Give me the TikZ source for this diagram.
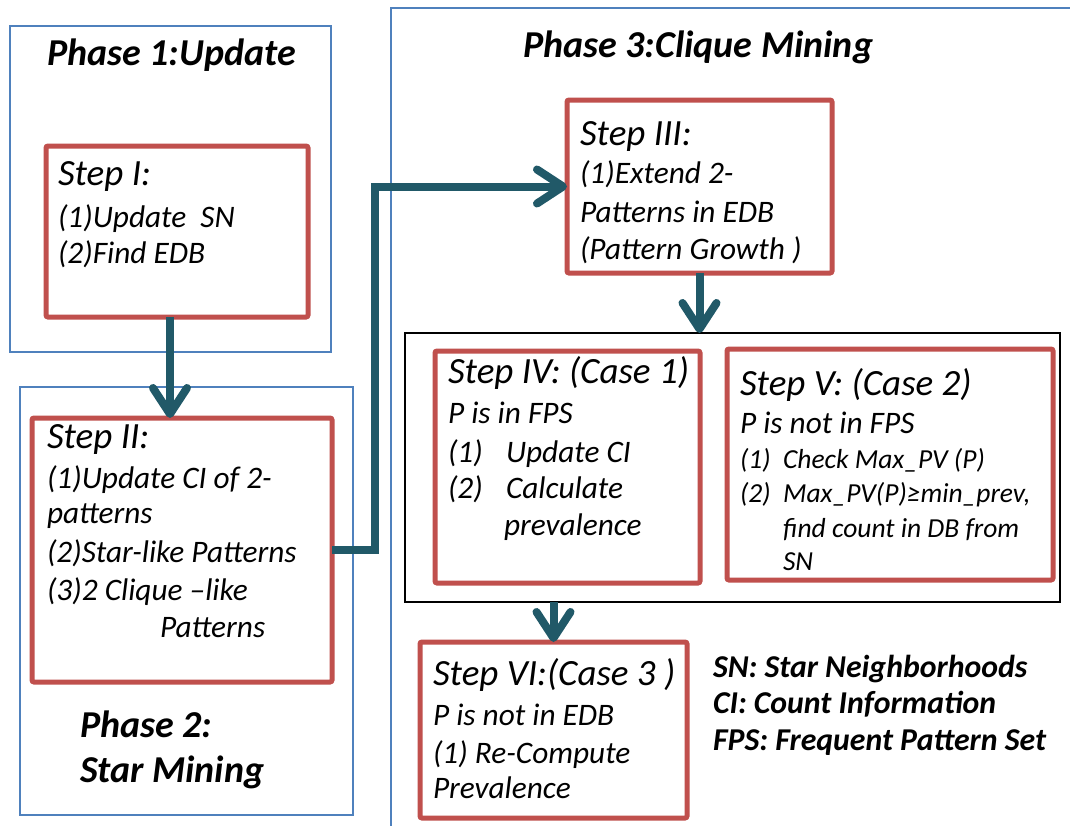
\documentclass[tikz,border=0pt]{standalone}
\usepackage{fontspec}
\setmainfont{Carlito}
\usetikzlibrary{arrows.meta}
\definecolor{bluec}{RGB}{79,129,189}
\definecolor{redc}{RGB}{192,80,77}
\definecolor{arrc}{RGB}{33,89,104}
\begin{document}
\begin{tikzpicture}[x=1pt,y=-1pt,
  box/.style={draw, anchor=north west, inner sep=0pt, outer sep=0pt},
  phasebox/.style={box, draw=bluec, line width=2pt},
  stepbox/.style={box, draw=redc, line width=5pt, rounded corners=2pt},
  groupbox/.style={box, draw=black, line width=2.5pt},
  t/.style={anchor=base west, inner sep=0pt, outer sep=0pt, text=black},
  body/.style={t, font=\fontsize{31.3}{37}\selectfont\itshape},
  head/.style={t, font=\fontsize{37}{44}\selectfont\itshape},
  small/.style={t, font=\fontsize{27.5}{33}\selectfont\itshape},
  phase/.style={t, font=\fontsize{38}{45}\selectfont\bfseries\itshape},
  legend/.style={t, font=\fontsize{31.8}{38}\selectfont\bfseries\itshape},
  arr/.style={draw=arrc, line width=8pt, -{Straight Barb[length=26pt,width=34pt,round]}}
]
\clip (0,0) rectangle (1070,825);
\fill[white] (0,0) rectangle (1070,825);

% phase boxes
\node[phasebox, minimum width=321pt, minimum height=326pt] (p1) at (10,26) {};
\node[phasebox, minimum width=333pt, minimum height=428pt] (p2) at (20,387) {};
\node[phasebox, minimum width=720pt, minimum height=850pt] (p3) at (391,8) {};
% group box
\node[groupbox, minimum width=655pt, minimum height=269pt] (bb) at (405,333) {};
% step boxes
\node[stepbox, minimum width=262pt, minimum height=171pt] (s1) at (46,146) {};
\node[stepbox, minimum width=300pt, minimum height=264pt] (s2) at (32,418) {};
\node[stepbox, minimum width=265pt, minimum height=173pt] (s3) at (567,100) {};
\node[stepbox, minimum width=265pt, minimum height=232pt] (s4) at (435,351) {};
\node[stepbox, minimum width=326pt, minimum height=231pt] (s5) at (727,349) {};
\node[stepbox, minimum width=267pt, minimum height=176pt] (s6) at (420,642) {};

% connectors
\draw[arr] ([xshift=-7pt]s1.south) -- ([xshift=-7pt]s1.south |- s2.north);
\draw[arr] (s2.east) -- ++(43,0) |- (s3.west);
\draw[arr] (s3.south) -- (s3.south |- bb.north);
\draw[arr] (bb.south -| s6.north) -- (s6.north);

% phase titles
\node[phase] (ph1) at (47,65) {Phase 1:Update};
\node[phase] (ph2a) at (80,737) {Phase 2:};
\node[phase] (ph2b) at (80,782) {Star Mining};
\node[phase] (ph3) at (523,57) {Phase 3:Clique Mining};

% Step I
\node[head] (a0) at (58,185) {Step I:};
\node[body] (a1) at (58,227) {(1)Update\ \ SN};
\node[body] (a2) at (58,263) {(2)Find EDB};

% Step II
\node[head] (b0) at (47,448) {Step II:};
\node[body] (b1) at (47,488) {(1)Update CI of 2-};
\node[body] (b2) at (47,523) {patterns};
\node[body] (b3) at (47,562) {(2)Star-like Patterns};
\node[body] (b4) at (47,600) {(3)2 Clique –like};
\node[body] (b5) at (160,637) {Patterns};

% Step III
\node[head] (c0) at (580,145) {Step III:};
\node[body] (c1) at (580,183) {(1)Extend 2-};
\node[body] (c2) at (580,222) {Patterns in EDB};
\node[body] (c3) at (580,259) {(Pattern Growth )};

% Step IV
\node[head] (d0) at (448,383) {Step IV: (Case 1)};
\node[body] (d1) at (448,423) {P is in FPS};
\node[body] (d2n) at (448,462) {(1)};
\node[body] (d2) at (506,462) {Update CI};
\node[body] (d3n) at (448,498) {(2)};
\node[body] (d3) at (506,498) {Calculate};
\node[body] (d4) at (504,535) {prevalence};

% Step V
\node[head] (e0) at (740,395) {Step V: (Case 2)};
\node[body] (e1) at (740,433) {P is not in FPS};
\node[small] (e2n) at (740,468) {(1)};
\node[small] (e2) at (783,468) {Check Max\_PV (P)};
\node[small] (e3n) at (740,502) {(2)};
\node[small] (e3) at (783,502) {Max\_PV(P)≥min\_prev,};
\node[small] (e4) at (783,537) {find count in DB from};
\node[small] (e5) at (783,570) {SN};

% Step VI
\node[head] (f0) at (433,685) {Step VI:(Case 3 )};
\node[body] (f1) at (433,725) {P is not in EDB};
\node[body] (f2) at (433,763) {(1) Re-Compute};
\node[body] (f3) at (433,798) {Prevalence};

% legend
\node[legend] (l1) at (713,677) {SN: Star Neighborhoods};
\node[legend] (l2) at (713,713) {CI: Count Information};
\node[legend] (l3) at (713,750) {FPS: Frequent Pattern Set};
\end{tikzpicture}
\end{document}
